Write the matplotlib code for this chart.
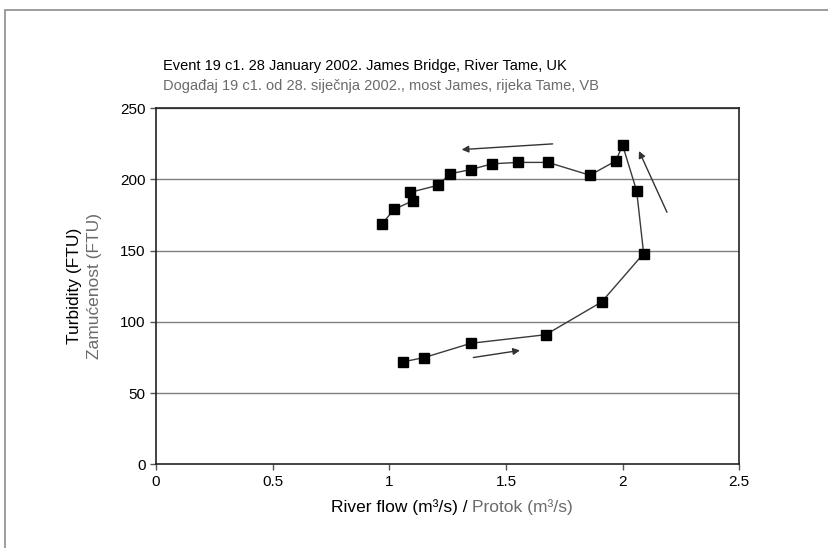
import matplotlib
matplotlib.use('Agg')
import matplotlib.pyplot as plt
import matplotlib.patches as mpatches

plt.rcParams['font.family'] = ['Liberation Sans', 'DejaVu Sans']

GREY_TXT = "#6b6b6b"
GRID = "#7f7f7f"

# hysteresis loop, in time order
flow = [1.06, 1.15, 1.35, 1.67, 1.91, 2.09, 2.06, 2.00, 1.97, 1.86, 1.68,
        1.55, 1.44, 1.35, 1.26, 1.21, 1.09, 1.10, 1.02, 0.97]
turb = [72, 75, 85, 91, 114, 148, 192, 224, 213, 203, 212,
        212, 211, 207, 204, 196, 191, 185, 179, 169]

# direction arrows (tail -> head), data units
arrows = [((1.70, 225), (1.31, 221)),
          ((2.19, 177), (2.07, 220)),
          ((1.36, 75), (1.56, 80))]

x_ticks = [0, 0.5, 1, 1.5, 2, 2.5]
x_tick_lbls = ['0', '0.5', '1', '1.5', '2', '2.5']
y_ticks = [0, 50, 100, 150, 200, 250]

fig = plt.figure(figsize=(8.29, 5.48), dpi=100)
ax = fig.add_axes([0.1882, 0.1527, 0.7036, 0.6497])

# outer frame of the figure (right/bottom cut off)
fig.patches.append(mpatches.Rectangle((5/829, -0.1), 1.2, 1 - 10/548 + 0.1,
                                      transform=fig.transFigure, fill=False,
                                      edgecolor='#8c8c8c', linewidth=1.2))

for yv in y_ticks[1:]:
    ax.axhline(yv, color=GRID, linewidth=1.0, zorder=1)

ax.plot(flow, turb, '-', color='#3a3a3a', linewidth=1.0, zorder=2)
ax.plot(flow, turb, 's', color='black', markersize=7.5, zorder=3)

for (tx, ty), (hx, hy) in arrows:
    ax.annotate('', xy=(hx, hy), xytext=(tx, ty),
                arrowprops=dict(arrowstyle='-|>', color='#333333', lw=1.0,
                                mutation_scale=10, shrinkA=0, shrinkB=0))

ax.set_xlim(0, 2.5)
ax.set_ylim(0, 250)
ax.set_xticks(x_ticks)
ax.set_xticklabels(x_tick_lbls)
ax.set_yticks(y_ticks)
ax.tick_params(axis='both', labelsize=11, color='#555555', length=4, width=1)
for s in ax.spines.values():
    s.set_color('#222222')
    s.set_linewidth(1.2)

fig.text(163/829, 1 - 66/548, "Event 19 c1. 28 January 2002. James Bridge, River Tame, UK",
         fontsize=10.5, color='black', va='center', ha='left')
fig.text(163/829, 1 - 86/548, "Događaj 19 c1. od 28. siječnja 2002., most James, rijeka Tame, VB",
         fontsize=10.5, color=GREY_TXT, va='center', ha='left')

fig.text(75/829, 1 - 286/548, "Turbidity (FTU)", rotation=90, fontsize=12.5,
         color='black', va='center', ha='center')
fig.text(95/829, 1 - 286/548, "Zamućenost (FTU)", rotation=90, fontsize=12.5,
         color=GREY_TXT, va='center', ha='center')

xl = ax.text(0.5, -0.1, "River flow (m³/s) / ", transform=ax.transAxes,
             fontsize=12.5, color='black', ha='right', va='center')
fig.canvas.draw()
bb = xl.get_window_extent()
# split label into black English part and grey Croatian part
w_en = bb.width
xl.remove()
t2 = ax.text(0, 0, "Protok (m³/s)", fontsize=12.5, color=GREY_TXT)
fig.canvas.draw()
w_hr = t2.get_window_extent().width
t2.remove()
cx = 452
left = cx - (w_en + w_hr) / 2
fig.text(left / 829, 1 - 507/548, "River flow (m³/s) / ", fontsize=12.5,
         color='black', ha='left', va='center')
fig.text((left + w_en) / 829, 1 - 507/548, "Protok (m³/s)", fontsize=12.5,
         color=GREY_TXT, ha='left', va='center')

fig.savefig("out.png", dpi=100)
